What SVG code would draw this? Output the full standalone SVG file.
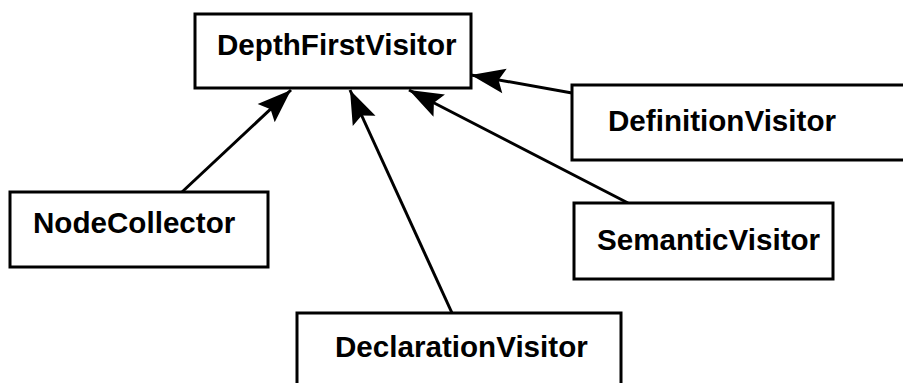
<svg xmlns="http://www.w3.org/2000/svg" width="903" height="383" viewBox="0 0 903 383">
<style>
.box{fill:#fff;stroke:#000;stroke-width:3}
.lbl{font-family:"Liberation Sans",Arial,sans-serif;font-weight:bold;font-size:29.6px;fill:#000}
.edge{stroke:#000;stroke-width:3;fill:none}
</style>
<defs>
<marker id="ah" markerUnits="userSpaceOnUse" markerWidth="40" markerHeight="30" refX="0" refY="0" viewBox="-34 -15 36 30" orient="auto" overflow="visible">
<path d="M0,0 L-34,-12.5 L-28,0 L-34,12.5 Z" fill="#000"/>
</marker>
</defs>
<g id="edges">
<line class="edge" x1="182" y1="192" x2="291" y2="90" marker-end="url(#ah)"/>
<line class="edge" x1="452" y1="313" x2="350" y2="90" marker-end="url(#ah)"/>
<line class="edge" x1="628" y1="203" x2="409" y2="90" marker-end="url(#ah)"/>
<line class="edge" x1="572" y1="93" x2="471" y2="75" marker-end="url(#ah)"/>
</g>
<g id="DepthFirstVisitor">
<rect class="box" x="195" y="14" width="276" height="74"/>
<text class="lbl" x="217" y="55">DepthFirstVisitor</text>
</g>
<g id="NodeCollector">
<rect class="box" x="10" y="192" width="258" height="75"/>
<text class="lbl" x="33" y="233">NodeCollector</text>
</g>
<g id="DeclarationVisitor">
<rect class="box" x="297" y="313" width="324" height="80"/>
<text class="lbl" x="335" y="357">DeclarationVisitor</text>
</g>
<g id="DefinitionVisitor">
<rect class="box" x="572" y="85" width="340" height="75"/>
<text class="lbl" x="608" y="131">DefinitionVisitor</text>
</g>
<g id="SemanticVisitor">
<rect class="box" x="574" y="203" width="259" height="76"/>
<text class="lbl" x="597" y="250">SemanticVisitor</text>
</g>
</svg>
